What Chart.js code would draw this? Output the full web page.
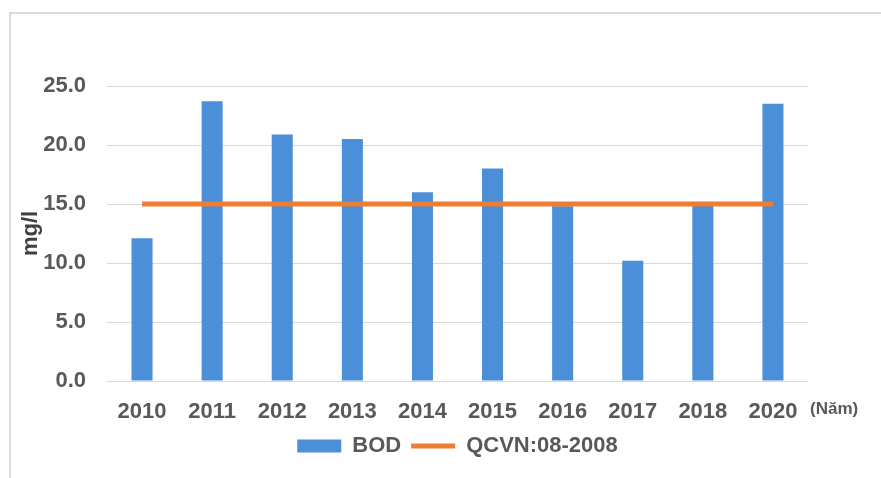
<!DOCTYPE html>
<html>
<head>
<meta charset="utf-8">
<script src="https://cdn.jsdelivr.net/npm/chart.js@4/dist/chart.umd.min.js"></script>
<style>
  html, body { margin: 0; padding: 0; background: #fff; overflow: hidden; }
  #wrap { position: relative; width: 881px; height: 478px; }
  #frame { position: absolute; left: 9px; top: 12px; width: 900px; height: 500px;
           border-left: 2px solid #d9d9d9; border-top: 2px solid #d9d9d9; }
  canvas { position: absolute; left: 0; top: 0; }
</style>
</head>
<body>
<div id="wrap">
  <div id="frame"></div>
  <canvas id="chart" width="881" height="478"></canvas>
</div>
<script>
// Years sampled
const years = ['2010', '2011', '2012', '2013', '2014', '2015', '2016', '2017', '2018', '2020'];
// Measured BOD (mg/l)
const bodValues = [12.1, 23.7, 20.9, 20.5, 16.0, 18.0, 14.8, 10.2, 14.9, 23.5];
// QCVN 08-2008 limit (mg/l)
const qcvnLimit = [15, 15, 15, 15, 15, 15, 15, 15, 15, 15];
// Y axis range
const yMin = 0, yMax = 25, yStep = 5;

const FONT = '"Liberation Sans", Arial, sans-serif';
const TEXT = '#595959';

// Unit label to the right of the year axis
const yearUnit = {
  id: 'yearUnit',
  afterDraw(chart) {
    const { ctx, chartArea } = chart;
    ctx.save();
    ctx.font = 'bold 17px ' + FONT;
    ctx.fillStyle = TEXT;
    ctx.textAlign = 'left';
    ctx.textBaseline = 'middle';
    ctx.fillText('(Năm)', chartArea.right + 2, chartArea.bottom + 28);
    ctx.restore();
  }
};

new Chart(document.getElementById('chart'), {
  data: {
    labels: years,
    datasets: [
      {
        type: 'bar',
        label: 'BOD',
        data: bodValues,
        backgroundColor: '#4A8FD7',
        borderWidth: 0,
        barPercentage: 0.3,
        categoryPercentage: 1,
        pointStyle: 'rect',
        order: 1
      },
      {
        type: 'line',
        label: 'QCVN:08-2008',
        data: qcvnLimit,
        borderColor: '#ED7D31',
        backgroundColor: '#ED7D31',
        borderWidth: 5,
        pointRadius: 0,
        pointHoverRadius: 0,
        pointStyle: 'line',
        order: 0
      }
    ]
  },
  options: {
    responsive: false,
    animation: false,
    layout: { padding: { left: 10, right: 73, top: 86, bottom: 11 } },
    plugins: {
      tooltip: { enabled: false },
      legend: {
        position: 'bottom',
        fullSize: false,
        labels: {
          usePointStyle: true,
          pointStyleWidth: 44,
          boxHeight: 13,
          padding: 10,
          color: TEXT,
          font: { family: FONT, size: 22, weight: 'bold' },
          sort: (a, b) => a.datasetIndex - b.datasetIndex
        }
      }
    },
    scales: {
      x: {
        grid: { display: false, drawTicks: false },
        border: { display: false },
        ticks: {
          color: TEXT,
          padding: 18,
          maxRotation: 0,
          autoSkip: false,
          font: { family: FONT, size: 22, weight: 'bold' }
        },
        afterFit: s => { s.height = 44; }
      },
      y: {
        min: yMin,
        max: yMax,
        border: { display: false },
        grid: { color: '#d9d9d9', lineWidth: 1, drawTicks: false },
        ticks: {
          stepSize: yStep,
          padding: 21,
          color: TEXT,
          font: { family: FONT, size: 22, weight: 'bold' },
          callback: v => Number(v).toFixed(1)
        },
        title: {
          display: true,
          text: 'mg/l',
          color: '#404040',
          padding: { top: 8, bottom: 0 },
          font: { family: FONT, size: 22, weight: 'bold' }
        },
        afterFit: s => { s.width = 97; }
      }
    }
  },
  plugins: [yearUnit]
});
</script>
</body>
</html>
